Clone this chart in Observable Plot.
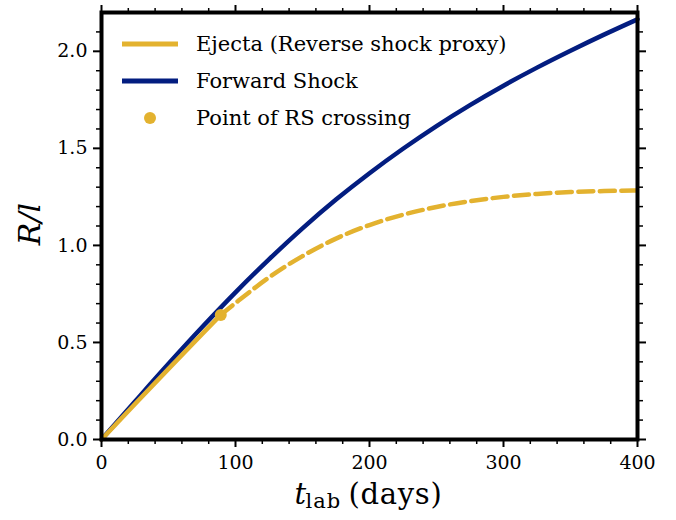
<!DOCTYPE html>
<html>
<head>
<meta charset="utf-8">
<script src="https://cdn.jsdelivr.net/npm/d3@7"></script>
<script src="https://cdn.jsdelivr.net/npm/@observablehq/plot@0.6"></script>
<style>
  html, body { margin: 0; padding: 0; background: #fff; }
  #wrap { position: relative; width: 676px; height: 520px; }
  .legend { position: absolute; left: 0; top: 0; width: 676px; height: 160px; pointer-events: none; }
  .legend text { font-family: "DejaVu Serif", serif; font-size: 21px; fill: #000; }
  .xlab-days text { letter-spacing: 0.7px; }
  .xlab-sub text { letter-spacing: 1px; }
</style>
</head>
<body>
<div id="wrap"></div>
<script>
// ---- data ----
const days = [0, 25, 50, 75, 100, 125, 150, 175, 200, 225, 250, 275, 300, 325, 350, 375, 400];
const forwardShock = [0, 0.196, 0.39, 0.578, 0.758, 0.928, 1.088, 1.236, 1.372, 1.498, 1.615, 1.723, 1.823, 1.916, 2.003, 2.086, 2.165];

const ejectaDays = [0, 25, 50, 75, 89, 100, 125, 150, 175, 200, 225, 250, 275, 300, 325, 350, 375, 400];
const ejecta = [0, 0.183, 0.364, 0.543, 0.642, 0.703, 0.835, 0.945, 1.035, 1.105, 1.158, 1.198, 1.228, 1.25, 1.265, 1.275, 1.28, 1.283];

const crossingDay = 89;
const crossingR = 0.642;

const xMajor = [0, 100, 200, 300, 400];
const xMinor = [20, 40, 60, 80, 120, 140, 160, 180, 220, 240, 260, 280, 320, 340, 360, 380];
const yMajor = [0, 0.5, 1.0, 1.5, 2.0];
const yMinor = [0.1, 0.2, 0.3, 0.4, 0.6, 0.7, 0.8, 0.9, 1.1, 1.2, 1.3, 1.4, 1.6, 1.7, 1.8, 1.9, 2.1];

const seriesNames = ["Ejecta (Reverse shock proxy)", "Forward Shock", "Point of RS crossing"];

const navy = "#031d80";
const gold = "#e3b22f";

// ---- tables ----
const fsRows = days.map((t, i) => ({t, r: forwardShock[i]}));
const ejRows = ejectaDays.map((t, i) => ({t, r: ejecta[i]}));
const ejSolid = ejRows.filter(d => d.t <= crossingDay);
const ejDashed = ejRows.filter(d => d.t >= crossingDay);
const crossing = [{t: crossingDay, r: crossingR}];

const noText = () => "";

const chart = Plot.plot({
  width: 676,
  height: 520,
  marginLeft: 101,
  marginRight: 39,
  marginTop: 12,
  marginBottom: 81,
  x: {domain: [0, 400]},
  y: {domain: [0, 2.2]},
  style: {fontFamily: "DejaVu Serif", fontSize: "19px", color: "#000", background: "#fff", overflow: "visible"},
  marks: [
    // lines
    Plot.line(fsRows, {x: "t", y: "r", stroke: navy, strokeWidth: 4.5, curve: "monotone-x"}),
    Plot.line(ejSolid, {x: "t", y: "r", stroke: gold, strokeWidth: 4.5, curve: "monotone-x"}),
    Plot.line(ejDashed, {x: "t", y: "r", stroke: gold, strokeWidth: 4.5, strokeDasharray: "15,6.5", curve: "monotone-x"}),
    Plot.dot(crossing, {x: "t", y: "r", r: 6, fill: gold, stroke: "none"}),
    // axes
    Plot.axisX({ticks: xMajor, tickSize: 8, tickPadding: 8, strokeWidth: 2, fontSize: 19, tickFormat: d => String(d), label: null}),
    Plot.axisX({ticks: xMinor, tickSize: 5, strokeWidth: 1.5, tickFormat: noText, label: null}),
    Plot.axisX({anchor: "top", ticks: xMajor, tickSize: 8, strokeWidth: 2, tickFormat: noText, label: null}),
    Plot.axisX({anchor: "top", ticks: xMinor, tickSize: 5, strokeWidth: 1.5, tickFormat: noText, label: null}),
    Plot.axisY({ticks: yMajor, tickSize: 8, tickPadding: 6, strokeWidth: 2, fontSize: 19, tickFormat: d3.format(".1f"), label: null}),
    Plot.axisY({ticks: yMinor, tickSize: 5, strokeWidth: 1.5, tickFormat: noText, label: null}),
    Plot.axisY({anchor: "right", ticks: yMajor, tickSize: 8, strokeWidth: 2, tickFormat: noText, label: null}),
    Plot.axisY({anchor: "right", ticks: yMinor, tickSize: 5, strokeWidth: 1.5, tickFormat: noText, label: null}),
    Plot.frame({stroke: "#000", strokeWidth: 4}),
    // axis titles
    Plot.text(["R/l"], {frameAnchor: "left", dx: -71, dy: -2, rotate: -90, fontSize: 30, fontStyle: "italic", textAnchor: "middle"}),
    Plot.text(["t"], {frameAnchor: "bottom", dx: -75, dy: 64, fontSize: 29, fontStyle: "italic", textAnchor: "start", lineAnchor: "bottom"}),
    Plot.text(["lab"], {frameAnchor: "bottom", dx: -64, dy: 68, fontSize: 21, textAnchor: "start", lineAnchor: "bottom", className: "xlab-sub"}),
    Plot.text(["(days)"], {frameAnchor: "bottom", dx: -21, dy: 64, fontSize: 29, textAnchor: "start", lineAnchor: "bottom", className: "xlab-days"})
  ]
});

const wrap = document.getElementById("wrap");
wrap.appendChild(chart);

// legend overlay
const leg = d3.select(wrap).append("svg").attr("class", "legend").attr("width", 676).attr("height", 160);
const rows = [
  {name: seriesNames[0], kind: "line", color: gold, y: 44},
  {name: seriesNames[1], kind: "line", color: navy, y: 81},
  {name: seriesNames[2], kind: "dot", color: gold, y: 118}
];
rows.forEach(row => {
  if (row.kind === "line") {
    leg.append("line").attr("x1", 122).attr("x2", 178).attr("y1", row.y).attr("y2", row.y)
      .attr("stroke", row.color).attr("stroke-width", 5);
  } else {
    leg.append("circle").attr("cx", 150).attr("cy", row.y).attr("r", 6).attr("fill", row.color);
  }
  leg.append("text").attr("x", 196).attr("y", row.y).attr("dy", "0.35em").text(row.name);
});
</script>
</body>
</html>
